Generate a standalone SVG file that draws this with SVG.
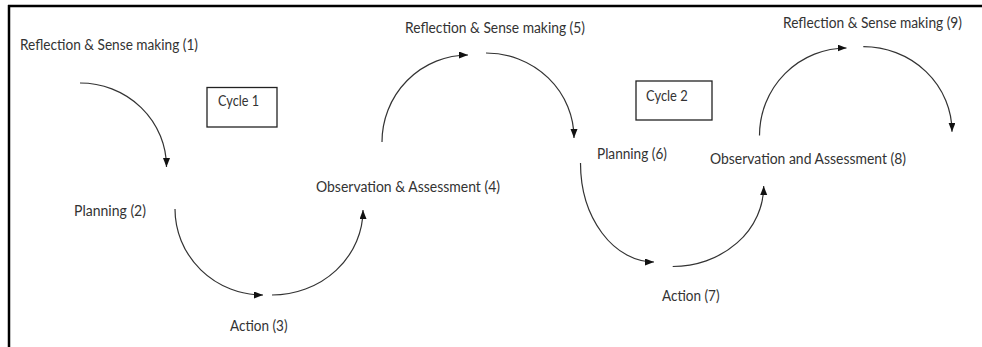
<svg xmlns="http://www.w3.org/2000/svg" width="982" height="347" viewBox="0 0 982 347">
<style>
.lbl{font-family:Lato,"Liberation Sans",sans-serif;font-size:14.5px;fill:#333}
.box{fill:#fff;stroke:#222;stroke-width:1.3}
.arc{fill:none;stroke:#333;stroke-width:1.2;marker-end:url(#ah)}
.frame{stroke:#000;stroke-width:2.5;fill:none}
</style>
<defs>
<marker id="ah" markerUnits="userSpaceOnUse" markerWidth="10" markerHeight="8" refX="9" refY="3.5" orient="auto">
<path d="M0,0 L9,3.5 L0,7 z" fill="#111"/>
</marker>
</defs>
<rect width="982" height="347" fill="#fff"/>
<g id="frame">
<line class="frame" x1="8" y1="6" x2="982" y2="6"/>
<line class="frame" x1="9" y1="5" x2="9" y2="347"/>
</g>
<g id="connectors">
<path class="arc" d="M80,83 A86.5,84 0 0 1 166.5,167"/>
<path class="arc" d="M175,209 A88,86 0 0 0 263,295"/>
<path class="arc" d="M272,295 A91,85 0 0 0 363,210"/>
<path class="arc" d="M382,142 A86,87 0 0 1 468,55"/>
<path class="arc" d="M486,53 A88,85 0 0 1 574,138"/>
<path class="arc" d="M580.5,163 A73.5,99 0 0 0 654,262"/>
<path class="arc" d="M672.7,266.5 A91,80.5 0 0 0 763.7,186"/>
<path class="arc" d="M759.5,135.5 A87,87.5 0 0 1 846.5,48"/>
<path class="arc" d="M863.3,46.7 A88.7,85 0 0 1 952,131.7"/>
</g>
<g id="n1"><text class="lbl" x="20" y="49.5" textLength="178" lengthAdjust="spacingAndGlyphs">Reflection &amp; Sense making (1)</text></g>
<g id="cycle1"><rect class="box" x="207" y="87.5" width="70" height="39.5"/><text class="lbl" x="218" y="106" textLength="41" lengthAdjust="spacingAndGlyphs">Cycle 1</text></g>
<g id="n2"><text class="lbl" x="74" y="216" textLength="72" lengthAdjust="spacingAndGlyphs">Planning (2)</text></g>
<g id="n3"><text class="lbl" x="230" y="331" textLength="57.5" lengthAdjust="spacingAndGlyphs">Action (3)</text></g>
<g id="n4"><text class="lbl" x="316" y="192" textLength="184" lengthAdjust="spacingAndGlyphs">Observation &amp; Assessment (4)</text></g>
<g id="n5"><text class="lbl" x="405" y="32.5" textLength="180" lengthAdjust="spacingAndGlyphs">Reflection &amp; Sense making (5)</text></g>
<g id="cycle2"><rect class="box" x="636" y="81" width="76" height="39" /><text class="lbl" x="646" y="101" textLength="41.7" lengthAdjust="spacingAndGlyphs">Cycle 2</text></g>
<g id="n6"><text class="lbl" x="597" y="158.5" textLength="70" lengthAdjust="spacingAndGlyphs">Planning (6)</text></g>
<g id="n7"><text class="lbl" x="662" y="300.5" textLength="57.5" lengthAdjust="spacingAndGlyphs">Action (7)</text></g>
<g id="n8"><text class="lbl" x="710" y="164" textLength="196" lengthAdjust="spacingAndGlyphs">Observation and Assessment (8)</text></g>
<g id="n9"><text class="lbl" x="783" y="27.5" textLength="179" lengthAdjust="spacingAndGlyphs">Reflection &amp; Sense making (9)</text></g>
</svg>
